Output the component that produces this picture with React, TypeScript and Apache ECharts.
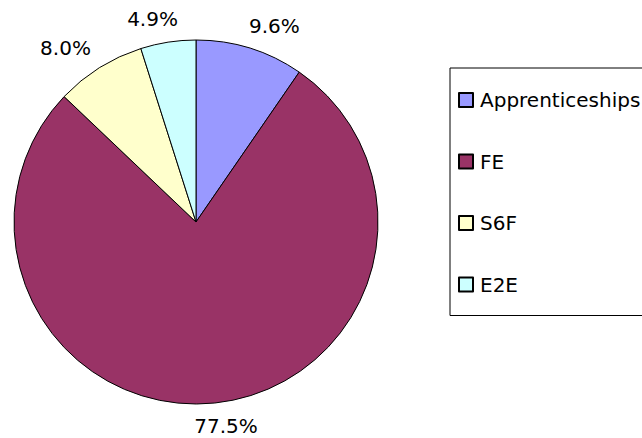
import React, { useEffect, useRef } from "react";
import * as echarts from "echarts";

const categories = ["Apprenticeships", "FE", "S6F", "E2E"];
const values = [9.6, 77.5, 8.0, 4.9];
const colors = ["#9999FF", "#993366", "#FFFFCC", "#CCFFFF"];

export default function App() {
  const ref = useRef<HTMLDivElement>(null);
  useEffect(() => {
    if (!ref.current) return;
    const chart = echarts.init(ref.current, null, { renderer: "svg" });
    const font = "DejaVu Sans";
    chart.setOption({
      animation: false,
      backgroundColor: "#ffffff",
      legend: {
        orient: "vertical",
        left: 450,
        top: 68,
        padding: [22, 20, 21, 8],
        itemGap: 41.5,
        itemWidth: 14,
        itemHeight: 14,
        icon: "rect",
        borderColor: "#000",
        borderWidth: 1,
        textStyle: { color: "#000", fontSize: 20, lineHeight: 20, fontFamily: font, padding: [0, 0, 0, 2] },
        data: categories,
      },
      series: [
        {
          type: "pie",
          center: [196, 222],
          radius: 182,
          startAngle: 90,
          clockwise: true,
          avoidLabelOverlap: false,
          itemStyle: { borderColor: "#000", borderWidth: 1 },
          label: {
            show: true,
            position: "outside",
            color: "#000",
            fontSize: 20,
            lineHeight: 20,
            fontFamily: font,
            formatter: (p: any) => p.value.toFixed(1) + "%",
          },
          labelLine: { show: true, length: 16, length2: 0, lineStyle: { opacity: 0, width: 0 } },
          labelLayout: (params: any) => {
            const pts = params.labelLinePoints;
            if (!pts || pts.length < 2) return {};
            const dx = pts[1][0] - pts[0][0];
            const dy = pts[1][1] - pts[0][1];
            const len = Math.sqrt(dx * dx + dy * dy) || 1;
            const c = dx / len;
            const s = dy / len;
            const hw = params.labelRect.width / 2;
            const hh = 7;
            const push = 12 * Math.sign(c) * Math.min(1, Math.abs(c) * 5);
            return {
              x: pts[1][0] + hw * c + push,
              y: pts[1][1] + hh * s,
              align: "center",
              verticalAlign: "middle",
            };
          },
          emphasis: { disabled: true },
          data: categories.map((name, i) => ({
            name,
            value: values[i],
            itemStyle: { color: colors[i] },
          })),
        },
      ],
    });
    return () => chart.dispose();
  }, []);
  return <div ref={ref} style={{ width: 642, height: 438, position: "absolute", left: 0, top: 0 }} />;
}
